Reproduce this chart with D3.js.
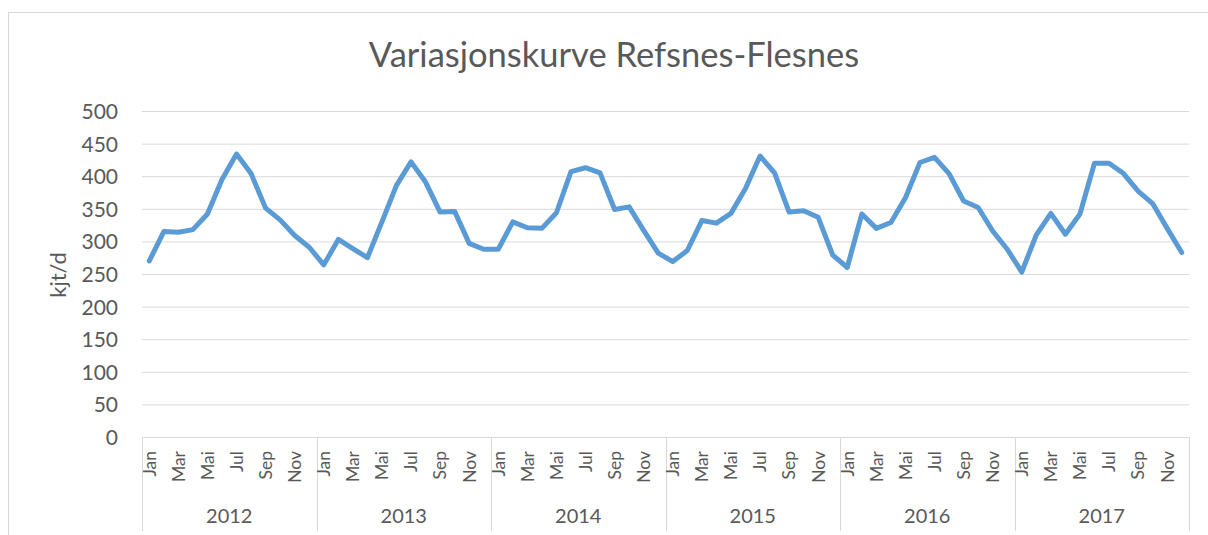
<!DOCTYPE html>
<html>
<head>
<meta charset="utf-8">
<script src="https://cdn.jsdelivr.net/npm/d3@7"></script>
<style>
  html, body { margin: 0; padding: 0; background: #fff; }
  svg { display: block; font-family: Lato, 'Open Sans', sans-serif; }
  .grid line { stroke: #d9d9d9; stroke-width: 1; }
  .grid path { display: none; }
  .axis text { fill: #595959; font-family: Lato, 'Open Sans', sans-serif; }
  .axis path, .axis line { display: none; }
</style>
</head>
<body>
<script>
// data
var years = ['2012', '2013', '2014', '2015', '2016', '2017'];
var months = ['Jan', 'Feb', 'Mar', 'Apr', 'Mai', 'Jun', 'Jul', 'Aug', 'Sep', 'Okt', 'Nov', 'Des'];
var yTicks = [0, 50, 100, 150, 200, 250, 300, 350, 400, 450, 500];

var kjt2012 = [270, 315, 314, 318, 342, 395, 434, 404, 351, 333, 309, 291];
var kjt2013 = [264, 303, 289, 275, 330, 386, 422, 391, 345, 346, 297, 288];
var kjt2014 = [288, 330, 321, 320, 344, 407, 413, 405, 349, 353, 317, 282];
var kjt2015 = [269, 286, 332, 328, 343, 381, 431, 405, 345, 347, 337, 279];
var kjt2016 = [260, 342, 320, 329, 367, 421, 429, 404, 362, 352, 316, 288];
var kjt2017 = [253, 310, 343, 311, 342, 420, 420, 404, 377, 358, 320, 283];

var values = [].concat(kjt2012, kjt2013, kjt2014, kjt2015, kjt2016, kjt2017);

var W = 1208, H = 535;
var margin = {top: 111, right: 19, bottom: 98, left: 142};
var width = W - margin.left - margin.right;
var height = H - margin.top - margin.bottom;

var svg = d3.select('body').append('svg')
    .attr('width', W)
    .attr('height', H);

// chart frame (right/bottom edges fall outside the picture)
svg.append('rect')
    .attr('x', 8.5).attr('y', 12.5)
    .attr('width', 1400).attr('height', 800)
    .attr('fill', 'none')
    .attr('stroke', '#d9d9d9');

svg.append('text')
    .attr('x', 614).attr('y', 67)
    .attr('text-anchor', 'middle')
    .attr('fill', '#595959')
    .style('font-size', '34.5px')
    .text('Variasjonskurve Refsnes-Flesnes');

var g = svg.append('g')
    .attr('transform', 'translate(' + margin.left + ',' + margin.top + ')');

var x = d3.scaleBand()
    .domain(d3.range(values.length))
    .range([0, width]);

var xYear = d3.scaleBand()
    .domain(years)
    .range([0, width]);

var y = d3.scaleLinear()
    .domain([0, 500])
    .range([height, 0]);

// gridlines
g.append('g')
    .attr('class', 'grid')
    .call(d3.axisLeft(y).tickValues(yTicks.slice(1)).tickSize(-width).tickFormat(''));

// y labels
g.append('g')
    .attr('class', 'axis')
    .attr('transform', 'translate(-24,0)')
    .call(d3.axisLeft(y).tickValues(yTicks).tickSize(0).tickPadding(0))
    .selectAll('text')
    .style('font-size', '21px')
    .attr('dy', '0.36em');

svg.append('text')
    .attr('transform', 'translate(66,275) rotate(-90)')
    .attr('text-anchor', 'middle')
    .attr('fill', '#595959')
    .style('font-size', '22px')
    .text('kjt/d');

// axis line + year separators
g.append('line')
    .attr('x1', 0).attr('x2', width)
    .attr('y1', height + 0.5).attr('y2', height + 0.5)
    .attr('stroke', '#d9d9d9');

g.append('g')
    .selectAll('line')
    .data(years.concat(['end']))
    .enter().append('line')
    .attr('x1', function (d, i) { return Math.round(i * xYear.step()) + 0.5; })
    .attr('x2', function (d, i) { return Math.round(i * xYear.step()) + 0.5; })
    .attr('y1', height)
    .attr('y2', height + 94)
    .attr('stroke', '#d9d9d9');

// month labels, every other month
var monthAxis = d3.axisBottom(x)
    .tickValues(d3.range(0, values.length, 2))
    .tickFormat(function (i) { return months[i % 12]; })
    .tickSize(0)
    .tickPadding(0);

g.append('g')
    .attr('class', 'axis')
    .attr('transform', 'translate(0,' + height + ')')
    .call(monthAxis)
    .selectAll('text')
    .style('font-size', '17.5px')
    .attr('text-anchor', 'end')
    .attr('transform', 'translate(0,14) rotate(-90)')
    .attr('x', 0).attr('y', 0)
    .attr('dy', '0.36em');

// year labels
g.append('g')
    .attr('class', 'axis')
    .attr('transform', 'translate(0,' + (height + 86) + ')')
    .call(d3.axisBottom(xYear).tickSize(0).tickPadding(0))
    .selectAll('text')
    .style('font-size', '20px')
    .attr('dy', 0);

// series
var line = d3.line()
    .x(function (d, i) { return x(i) + x.bandwidth() / 2; })
    .y(function (d) { return y(d); });

g.append('path')
    .datum(values)
    .attr('fill', 'none')
    .attr('stroke', '#5b9bd5')
    .attr('stroke-width', 5)
    .attr('stroke-linejoin', 'round')
    .attr('stroke-linecap', 'round')
    .attr('d', line);
</script>
</body>
</html>
